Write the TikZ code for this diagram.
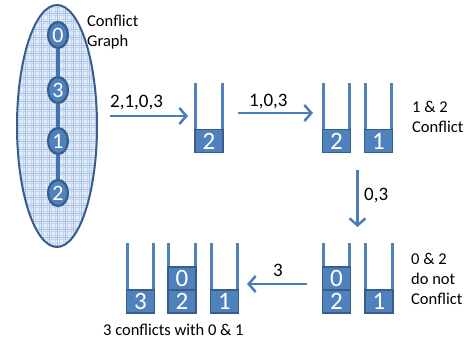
\documentclass[tikz,border=0pt]{standalone}
\usepackage{fontspec}
\setmainfont{Carlito}
\usetikzlibrary{arrows.meta,shapes.geometric}
\definecolor{boxblue}{HTML}{4F81BD}
\definecolor{edgeblue}{HTML}{385D8A}
\definecolor{arrowblue}{HTML}{4A7EBB}
\definecolor{linkblue}{HTML}{4272B0}
\definecolor{gridfill}{HTML}{E4EDF8}
\definecolor{gridline}{HTML}{C6D8EF}
\definecolor{gridmajor}{HTML}{A6C2E6}
% two side walls of a stack, rising from the top cell up to a row coordinate
\newcommand\stackwalls[2]{%
  \draw[wall] ([xshift=1.5pt]#1.north west) -- ([xshift=1.5pt]#1.north west |- #2);
  \draw[wall] ([xshift=-1.5pt]#1.north east) -- ([xshift=-1.5pt]#1.north east |- #2);}
\begin{document}
\begin{tikzpicture}[x=1pt,y=-1pt,
  cell/.style={draw=edgeblue, line width=1.5pt, fill=boxblue, text=white,
    minimum width=28pt, minimum height=23pt, inner sep=0pt,
    font=\fontsize{25}{25}\selectfont},
  wall/.style={boxblue, line width=3pt},
  arr/.style={arrowblue, line width=2.5pt, -{Straight Barb[length=7pt,width=16pt]}},
  gnode/.style={ellipse, draw=edgeblue, line width=2.2pt, fill=boxblue, text=white,
    minimum width=20pt, minimum height=26pt, inner sep=0pt,
    font=\fontsize{22}{22}\selectfont},
  gedge/.style={linkblue, line width=4pt},
  note/.style={anchor=base west, align=left, inner sep=0pt,
    font=\fontsize{16.5}{20}\selectfont},
  lbl/.style={anchor=base west, inner sep=0pt, font=\fontsize{19}{19}\selectfont}]
\useasboundingbox (0,0) rectangle (469,339);

% conflict graph: gridded ellipse with a chain of vertices
\begin{scope}
  \path[clip] (57,126) ellipse [x radius=40pt, y radius=121pt];
  \fill[gridfill] (15,3) rectangle (99,249);
  \foreach \i in {0,...,21} {
    \pgfmathsetmacro\xx{15+4*\i}
    \draw[gridline, line width=0.5pt] (\xx,3) -- (\xx,249);
  }
  \foreach \i in {0,...,62} {
    \pgfmathsetmacro\yy{3+4*\i}
    \draw[gridline, line width=0.5pt] (15,\yy) -- (99,\yy);
  }
  \foreach \i in {0,...,10} {
    \pgfmathsetmacro\xx{17+8*\i}
    \draw[gridmajor, line width=0.55pt] (\xx,3) -- (\xx,249);
  }
  \foreach \i in {0,...,31} {
    \pgfmathsetmacro\yy{5+8*\i}
    \draw[gridmajor, line width=0.55pt] (15,\yy) -- (99,\yy);
  }
\end{scope}
\node[ellipse, draw=edgeblue, line width=2pt, minimum width=80pt, minimum height=242pt,
  inner sep=0pt] (cg) at (57,126) {};

\node[gnode] (g0) at (58,35) {0};
\node[gnode] (g3) at (58,90) {3};
\node[gnode] (g1) at (58,141) {1};
\node[gnode] (g2) at (58,193) {2};
\draw[gedge] (g0) -- (g3);
\draw[gedge] (g3) -- (g1);
\draw[gedge] (g1) -- (g2);

% multi-line notes are placed by the baseline of their last line
\node[note] (cgt) at (87,47) {Conflict\\Graph};

% row heights of the stack tops
\coordinate (toprow) at (0,83);
\coordinate (botrow) at (0,243);

% step 1: one stack
\node[cell] (a2) at (209,141) {2};
\stackwalls{a2}{toprow}

% step 2: two stacks
\node[cell] (b2) at (336.5,141) {2};
\node[cell] (b1) at (378.5,141) {1};
\stackwalls{b2}{toprow}
\stackwalls{b1}{toprow}
\node[note] (n12) at (412,133) {1 \& 2\\Conflict};

% step 3: 0 joins the stack of 2
\node[cell] (d2) at (336.5,301.5) {2};
\node[cell] (d0) at (336.5,278.5) {0};
\node[cell] (d1) at (379,301.5) {1};
\stackwalls{d0}{botrow}
\stackwalls{d1}{botrow}
\node[note] (n02) at (411,305) {0 \& 2\\do not\\Conflict};

% step 4: 3 needs a new stack
\node[cell] (c3) at (140.5,301.5) {3};
\node[cell] (c2) at (182,301.5) {2};
\node[cell] (c0) at (182,278.5) {0};
\node[cell] (c1) at (224.5,301.5) {1};
\stackwalls{c3}{botrow}
\stackwalls{c0}{botrow}
\stackwalls{c1}{botrow}
\node[note] (n3) at (103,335) {3 conflicts with 0 \& 1};

% transitions
\coordinate (p1s) at (110,116);
\coordinate (p1e) at (188,116);
\coordinate (p2s) at (238,113);
\coordinate (p2e) at (313,113);
\coordinate (p3s) at (357.5,170);
\coordinate (p3e) at (357.5,227);
\coordinate (p4s) at (307,284);
\coordinate (p4e) at (247,284);
\draw[arr] (p1s) -- (p1e);
\draw[arr] (p2s) -- (p2e);
\draw[arr] (p3s) -- (p3e);
\draw[arr] (p4s) -- (p4e);
\node[lbl] (l1) at (110,108) {2,1,0,3};
\node[lbl] (l2) at (249,107) {1,0,3};
\node[lbl] (l3) at (364,201) {0,3};
\node[lbl] (l4) at (273,277) {3};
\end{tikzpicture}
\end{document}
